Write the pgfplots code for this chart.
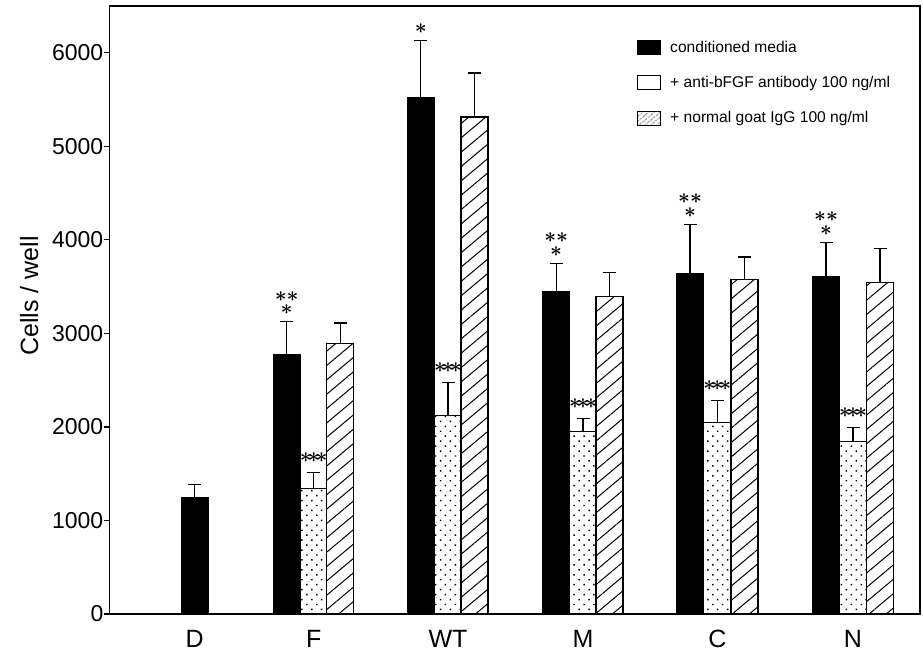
\documentclass[border=0pt]{standalone}
\usepackage{fontspec}
\setmainfont{Liberation Sans}
\usepackage{pgfplots}
\pgfplotsset{compat=1.18}
\usepackage{pgfplotstable}
\usetikzlibrary{patterns.meta}

\pgfplotstableread{
x y e
194.6 1243 143
286.7 2778 345
420.8 5520 612
556.2 3451 296
690.0 3640 523
826.0 3604 370
}\blackdata
\pgfplotstableread{
x y e
313.7 1339 171
448.0 2123 352
583.0 1950 140
717.3 2044 235
853.0 1848 142
}\dotdata
\pgfplotstableread{
x y e
340.3 2892 220
474.5 5313 470
609.5 3397 250
744.5 3579 238
880.0 3540 370
}\hatchdata

\begin{document}
\begin{tikzpicture}
\begin{axis}[
  scale only axis, width=810.5pt, height=608pt,
  xmin=109.5, xmax=920, ymin=0, ymax=6500,
  axis line style={line width=1.4pt},
  ytick={0,1000,...,6000}, ytick pos=left, tick align=outside, major tick length=5.5pt,
  tick style={line width=1.2pt, black},
  xtick={194.6,313.7,448,583,717.3,853}, xticklabels={D,F,WT,M,C,N},
  xtick style={draw=none},
  /pgf/number format/assume math mode=true,
  /pgf/number format/1000 sep={},
  scaled y ticks=false,
  yticklabel style={font=\fontsize{23}{23}\selectfont, inner sep=0.5pt},
  xticklabel style={font=\fontsize{25}{25}\selectfont, anchor=base, yshift=-28pt},
  ylabel={Cells / well},
  ylabel style={font=\fontsize{25}{25}\selectfont, at={(axis description cs:-0.099,0.523)}, anchor=center},
  clip=false,
  legend image code/.code={\draw[#1,line width=1pt] (0pt,-7pt) rectangle (23pt,7pt); \path (30pt,0pt);},
  legend style={at={(axis description cs:0.651,0.946)}, anchor=north west, draw=none, fill=none,
    font=\fontsize{15.6}{16}\selectfont, row sep=18.5pt, inner sep=0pt},
  legend cell align=left,
]
\addplot[forget plot, ybar, bar width=27, bar shift=0pt, fill=black, draw=black, line width=1.2pt,
  error bars/.cd, y dir=plus, y explicit, error bar style={line width=1.2pt, black},
  error mark options={rotate=90, mark size=6.5pt, line width=1.2pt, black}]
  table[x=x, y=y, y error=e] {\blackdata};
\addplot[forget plot, ybar, bar width=27, bar shift=0pt, fill=white, draw=black, line width=1.2pt,
  postaction={pattern={Dots[radius=1.05pt, distance=7pt, angle=45]}, pattern color=black},
  error bars/.cd, y dir=plus, y explicit, error bar style={line width=1.2pt, black},
  error mark options={rotate=90, mark size=6.5pt, line width=1.2pt, black}]
  table[x=x, y=y, y error=e] {\dotdata};
\addplot[forget plot, ybar, bar width=27, bar shift=0pt, fill=white, draw=black, line width=1.2pt,
  postaction={pattern={Lines[angle=40, distance=11pt, line width=1pt]}, pattern color=black},
  error bars/.cd, y dir=plus, y explicit, error bar style={line width=1.2pt, black},
  error mark options={rotate=90, mark size=6.5pt, line width=1.2pt, black}]
  table[x=x, y=y, y error=e] {\hatchdata};
\addlegendimage{fill=black, draw=black}
\addlegendentry{conditioned media}
\addlegendimage{fill=white, draw=black}
\addlegendentry{+ anti-bFGF antibody 100 ng/ml}
\addlegendimage{draw=black, pattern={Lines[angle=40, distance=4pt, line width=0.8pt]}}
\addlegendentry{+ normal goat IgG 100 ng/ml}
% significance marks
\tikzset{star/.style={font=\fontsize{21}{13.5}\selectfont\boldmath, inner sep=0pt, align=center, anchor=south}}
\node[star, yshift=7pt] at (axis cs:286.7,3123) {${\ast}{\ast}$\\${\ast}$};
\node[star, yshift=7pt] at (axis cs:420.8,6132) {${\ast}$};
\node[star, yshift=7pt] at (axis cs:556.2,3747) {${\ast}{\ast}$\\${\ast}$};
\node[star, yshift=7pt] at (axis cs:690,4163) {${\ast}{\ast}$\\${\ast}$};
\node[star, yshift=7pt] at (axis cs:826,3974) {${\ast}{\ast}$\\${\ast}$};
\node[star, yshift=10pt] at (axis cs:313.7,1510) {\hspace{-2pt}${\ast}\!{\ast}\!{\ast}$\hspace{-2pt}};
\node[star, yshift=10pt] at (axis cs:448,2475) {${\ast}\!{\ast}\!{\ast}$};
\node[star, yshift=10pt] at (axis cs:583,2090) {${\ast}\!{\ast}\!{\ast}$};
\node[star, yshift=10pt] at (axis cs:717.3,2279) {${\ast}\!{\ast}\!{\ast}$};
\node[star, yshift=10pt] at (axis cs:853,1990) {${\ast}\!{\ast}\!{\ast}$};
\end{axis}
\path ([xshift=-109.5pt,yshift=-40pt]current axis.south west) rectangle ([xshift=3pt,yshift=6pt]current axis.north east);
\end{tikzpicture}
\end{document}
